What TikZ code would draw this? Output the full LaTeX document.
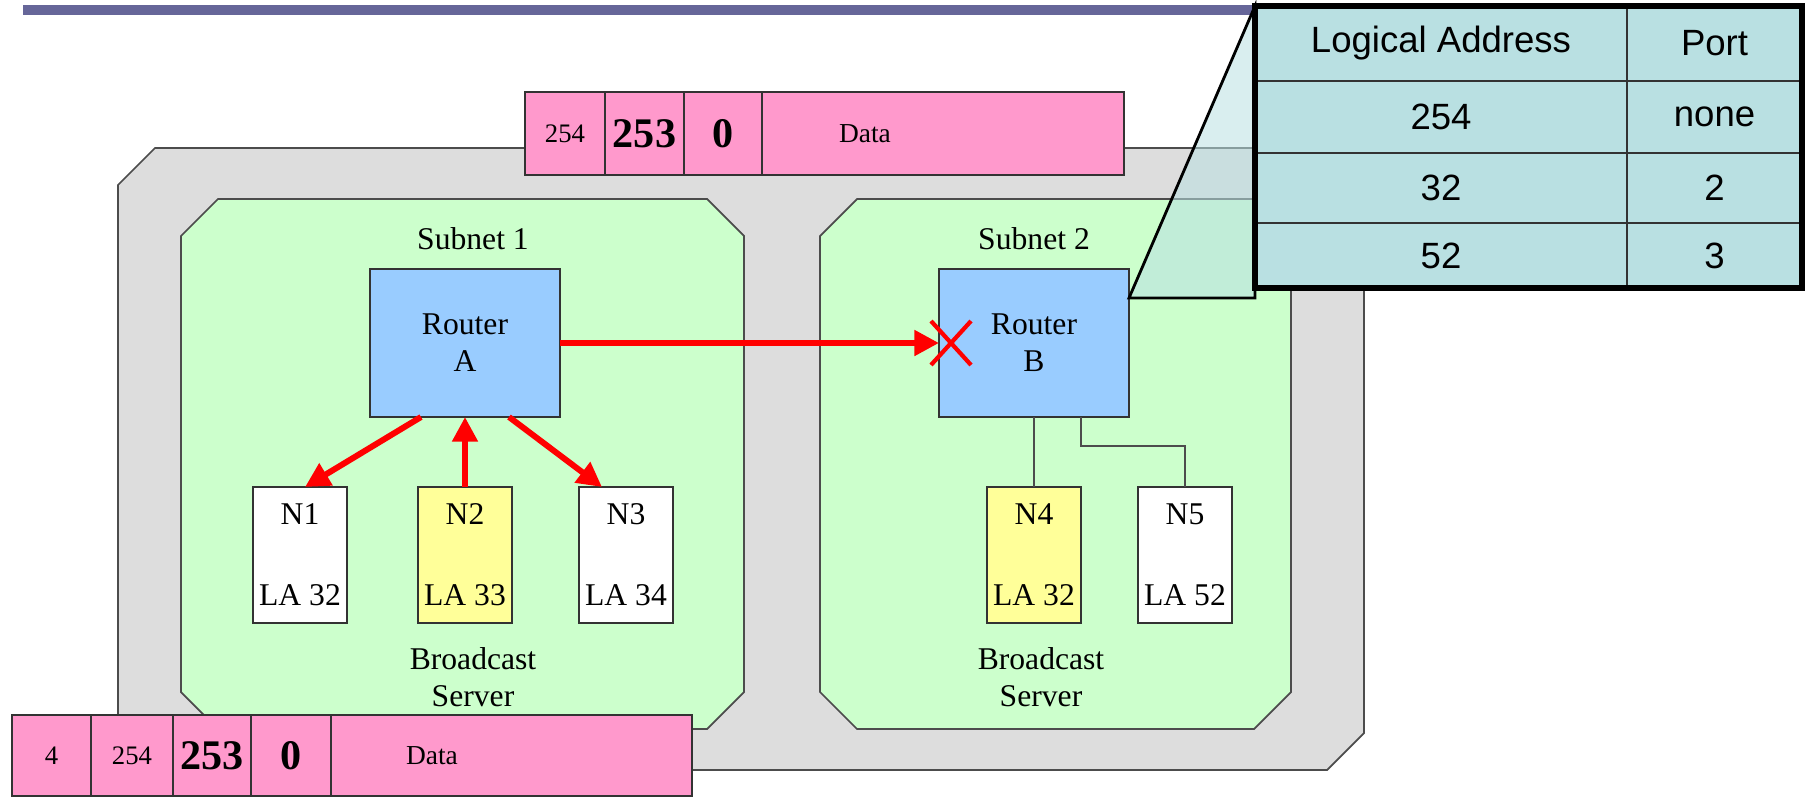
\documentclass[tikz,border=0pt]{standalone}
\usepackage{fontspec}
\setmainfont{Liberation Serif}
\newfontfamily\tabfont{Liberation Sans}
\usetikzlibrary{arrows.meta,positioning,calc}
\definecolor{netGray}{RGB}{221,221,221}
\definecolor{subG}{RGB}{204,255,204}
\definecolor{routB}{RGB}{153,204,255}
\definecolor{hostY}{RGB}{255,255,153}
\definecolor{pktP}{RGB}{255,153,204}
\definecolor{tabC}{RGB}{185,224,226}
\definecolor{barV}{RGB}{102,102,153}

\begin{document}
\begin{tikzpicture}[
  font=\fontsize{9}{10.5}\selectfont,
  >={Triangle[length=7pt,width=7pt]},
  edge/.style={draw=black!70, line width=0.5pt},
  router/.style={rectangle, draw=black!80, fill=routB, minimum width=1.90cm,
                 minimum height=1.48cm, align=center, inner sep=0pt, outer sep=0pt},
  host/.style={rectangle, draw=black!80, fill=white, minimum width=0.94cm,
               minimum height=1.36cm, align=center, inner sep=0pt, outer sep=0pt},
  lbl/.style={align=center, inner sep=1pt},
  cell/.style={rectangle, draw=black!80, fill=pktP, minimum width=0.80cm,
               inner sep=0pt, outer sep=0pt, font=\fontsize{7.6}{8}\selectfont},
  big/.style={font=\fontsize{12}{14}\selectfont\bfseries},
  tcell/.style={rectangle, draw=black!80, line width=0.7pt, fill=tabC,
                inner sep=0pt, outer sep=0pt,
                font=\tabfont\fontsize{10.4}{12}\selectfont},
  redarr/.style={->, draw=red, line width=1.7pt}]

  \useasboundingbox (0,0) rectangle (18.08,7.96);
  \fill[barV] (0.23,7.81) rectangle (12.57,7.91);

  % network and the two subnets
  \draw[edge, fill=netGray] (1.18,6.11) -- (1.55,6.48) -- (13.27,6.48) -- (13.64,6.11)
    -- (13.64,0.63) -- (13.27,0.26) -- (1.55,0.26) -- (1.18,0.63) -- cycle;
  \draw[edge, fill=subG] (1.81,5.60) -- (2.18,5.97) -- (7.07,5.97) -- (7.44,5.60)
    -- (7.44,1.04) -- (7.07,0.67) -- (2.18,0.67) -- (1.81,1.04) -- cycle;
  \draw[edge, fill=subG] (8.20,5.60) -- (8.57,5.97) -- (12.54,5.97) -- (12.91,5.60)
    -- (12.91,1.04) -- (12.54,0.67) -- (8.57,0.67) -- (8.20,1.04) -- cycle;

  \node[lbl] (s1) at (4.73,5.57) {Subnet 1};
  \node[lbl] (s2) at (10.34,5.57) {Subnet 2};

  \node[router] (ra) at (4.65,4.53) {Router\\A};
  \node[router] (rb) at (10.34,4.53) {Router\\B};

  \node[host] (n1) at (3.00,2.41) {N1\\[4.4mm]LA 32};
  \node[host, fill=hostY] (n2) at (4.65,2.41) {N2\\[4.4mm]LA 33};
  \node[host] (n3) at (6.26,2.41) {N3\\[4.4mm]LA 34};
  \node[host, fill=hostY] (n4) at (10.34,2.41) {N4\\[4.4mm]LA 32};
  \node[host] (n5) at (11.85,2.41) {N5\\[4.4mm]LA 52};

  \node[lbl] (bs1) at (4.73,1.19) {Broadcast\\Server};
  \node[lbl] (bs2) at (10.41,1.19) {Broadcast\\Server};

  % broadcast in subnet 1, stopped at router B
  \draw[redarr] ([xshift=-4.4mm]ra.south) -- ([xshift=0.5mm]n1.north);
  \draw[redarr] (n2.north) -- (ra.south);
  \draw[redarr] ([xshift=4.4mm]ra.south) -- ([xshift=-2.4mm]n3.north);
  \draw[redarr] (ra.east) -- (rb.west);
  \draw[red, line width=1.2pt] ([xshift=-0.8mm,yshift=-2.2mm]rb.west) -- ([xshift=3.2mm,yshift=2.2mm]rb.west);
  \draw[red, line width=1.2pt] ([xshift=-0.8mm,yshift=2.2mm]rb.west) -- ([xshift=3.2mm,yshift=-2.2mm]rb.west);

  \draw[edge] (rb.south) -- (n4.north);
  \draw[edge] ([xshift=4.7mm]rb.south) -- ++(0,-0.29) -| (n5.north);

  % packet on top
  \node[cell, minimum height=0.83cm, anchor=north west] (p1a) at (5.25,7.04) {254};
  \node[cell, minimum height=0.83cm, minimum width=0.79cm, big, right=0pt of p1a] (p1b) {253};
  \node[cell, minimum height=0.83cm, minimum width=0.78cm, big, right=0pt of p1b] (p1c) {0};
  \node[cell, minimum height=0.83cm, minimum width=3.62cm, right=0pt of p1c] (p1d) {};
  \node[font=\fontsize{7.8}{8}\selectfont] (p1t) at ([xshift=1.03cm]p1d.west) {Data};

  % packet at the bottom
  \node[cell, minimum height=0.81cm, minimum width=0.79cm, anchor=north west] (p2a) at (0.12,0.81) {4};
  \node[cell, minimum height=0.81cm, minimum width=0.82cm, right=0pt of p2a] (p2b) {254};
  \node[cell, minimum height=0.81cm, minimum width=0.78cm, big, right=0pt of p2b] (p2c) {253};
  \node[cell, minimum height=0.81cm, big, right=0pt of p2c] (p2d) {0};
  \node[cell, minimum height=0.81cm, minimum width=3.61cm, right=0pt of p2d] (p2e) {};
  \node[font=\fontsize{7.8}{8}\selectfont] (p2t) at ([xshift=1.01cm]p2e.west) {Data};

  % routing table of router B
  \coordinate (tabnw) at (12.55,7.90);
  \coordinate (cb) at ([yshift=-2.9mm]rb.north east);
  \filldraw[fill=tabC, fill opacity=0.55, draw=black, line width=0.8pt]
    (cb) -- (tabnw) -- (tabnw |- cb) -- cycle;

  \node[tcell, minimum width=3.72cm, minimum height=0.75cm, anchor=north west] (h1) at (tabnw) {Logical Address};
  \node[tcell, minimum width=1.75cm, minimum height=0.75cm, right=0pt of h1] (h2) {Port};
  \node[tcell, minimum width=3.72cm, minimum height=0.72cm, below=0pt of h1] (r1a) {254};
  \node[tcell, minimum width=1.75cm, minimum height=0.72cm, right=0pt of r1a] (r1b) {none};
  \node[tcell, minimum width=3.72cm, minimum height=0.70cm, below=0pt of r1a] (r2a) {32};
  \node[tcell, minimum width=1.75cm, minimum height=0.70cm, right=0pt of r2a] (r2b) {2};
  \node[tcell, minimum width=3.72cm, minimum height=0.65cm, below=0pt of r2a] (r3a) {52};
  \node[tcell, minimum width=1.75cm, minimum height=0.65cm, right=0pt of r3a] (r3b) {3};
  \draw[line width=1.5pt] (h1.north west) rectangle (r3b.south east);
\end{tikzpicture}
\end{document}
